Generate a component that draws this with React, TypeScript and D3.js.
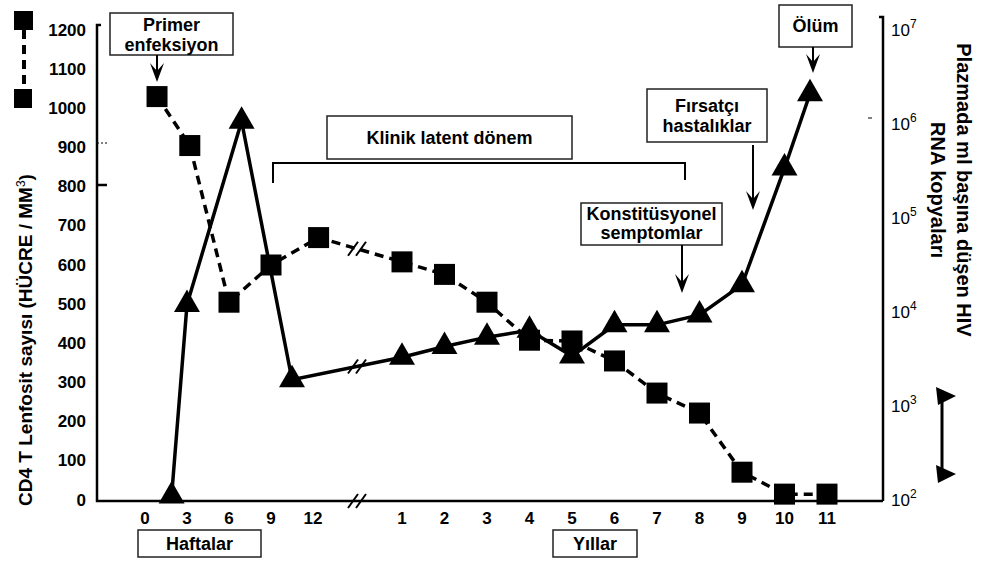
import * as d3 from "d3";
import React, { useEffect, useRef } from "react";

// CD4 T lenfosit sayısı (kareler, kesikli çizgi)
const cd4Weeks = [0.86, 3.2, 6.0, 9.0, 12.4];
const cd4WeekValues = [1030, 905, 505, 600, 670];
const cd4Years = [1, 2, 3, 4, 5, 6, 7, 8, 9, 10, 11];
const cd4YearValues = [608, 576, 505, 408, 406, 355, 273, 222, 71, 15, 15];

// plazmada HIV RNA kopyaları (üçgenler, düz çizgi)
const rnaWeeks = [1.9, 3.0, 6.9, 10.5];
const rnaWeekValues = [110, 12000, 1070000, 1900];
const rnaYears = [1, 2, 3, 4, 5, 6, 7, 8, 9, 10, 10.6];
const rnaYearValues = [3300, 4300, 5400, 6400, 3400, 7300, 7300, 9300, 19500, 340000, 2100000];

// eksen etiketleri
const weekTicks = [0, 3, 6, 9, 12];
const yearTicks = [1, 2, 3, 4, 5, 6, 7, 8, 9, 10, 11];
const cd4Ticks = [0, 100, 200, 300, 400, 500, 600, 700, 800, 900, 1000, 1100, 1200];
const rnaTickExponents = [2, 3, 4, 5, 6, 7];

function App() {
   const ref = useRef<SVGSVGElement>(null);

   useEffect(() => {
      const width = 982;
      const height = 561;
      const font = "'Liberation Sans', Arial, Helvetica, sans-serif";

      const svg = d3.select(ref.current);
      svg.selectAll("*").remove();
      svg.attr("width", width).attr("height", height).attr("font-family", font);

      // broken time axis: weeks, then years
      const xWeek = d3.scaleLinear().domain([0, 12]).range([145, 313]);
      const xYear = d3.scaleLinear().domain([1, 11]).range([402, 827]);
      const yCd4 = d3.scaleLinear().domain([0, 1200]).range([500, 30]);
      const yRna = d3.scaleLog().domain([1e2, 1e7]).range([500, 30]);
      const breakX = 357;

      const cd4Points: [number, number][] = [
         ...cd4Weeks.map((w, i) => [xWeek(w), yCd4(cd4WeekValues[i])] as [number, number]),
         ...cd4Years.map((y, i) => [xYear(y), yCd4(cd4YearValues[i])] as [number, number]),
      ];
      const rnaPoints: [number, number][] = [
         ...rnaWeeks.map((w, i) => [xWeek(w), yRna(rnaWeekValues[i])] as [number, number]),
         ...rnaYears.map((y, i) => [xYear(y), yRna(rnaYearValues[i])] as [number, number]),
      ];

      // y of a series where it crosses the axis break
      const yAtBreak = (pts: [number, number][], nWeeks: number) => {
         const a = pts[nWeeks - 1];
         const b = pts[nWeeks];
         return a[1] + ((breakX - a[0]) / (b[0] - a[0])) * (b[1] - a[1]);
      };

      // axes
      const axes = svg
         .append("g")
         .attr("stroke", "#000")
         .attr("stroke-width", 2.5)
         .attr("fill", "none");
      axes.append("path").attr("d", "M101,25H97V501H883");
      axes.append("path").attr("d", "M879,17H883V501");
      axes.append("path").attr("d", "M97,185H107");
      axes
         .append("path")
         .attr("d", "M97,143H108")
         .attr("stroke-width", 1)
         .attr("stroke-dasharray", "2,2");
      axes.append("path").attr("d", "M868,118H872").attr("stroke-width", 1);

      const drawBreak = (cx: number, cy: number) => {
         const g = svg.append("g").attr("stroke", "#000").attr("stroke-width", 2);
         [-4, 4].forEach((dx) => {
            g.append("line")
               .attr("x1", cx + dx - 5)
               .attr("y1", cy + 7)
               .attr("x2", cx + dx + 5)
               .attr("y2", cy - 7);
         });
      };

      // left tick labels
      svg.append("g")
         .selectAll("text")
         .data(cd4Ticks)
         .join("text")
         .attr("x", 86)
         .attr("y", (d) => yCd4(d))
         .attr("text-anchor", "end")
         .attr("dominant-baseline", "central")
         .attr("font-weight", "bold")
         .attr("font-size", 17)
         .text((d) => d);

      // right tick labels
      const rt = svg
         .append("g")
         .selectAll("text")
         .data(rnaTickExponents)
         .join("text")
         .attr("x", 891)
         .attr("y", (d) => yRna(Math.pow(10, d)) + 6)
         .attr("font-size", 17);
      rt.append("tspan").text("10");
      rt.append("tspan").attr("dy", -8).attr("font-size", 12).text((d) => d);

      // x tick labels
      const xLabels = svg
         .append("g")
         .attr("font-weight", "bold")
         .attr("font-size", 17)
         .attr("text-anchor", "middle")
         .attr("dominant-baseline", "central");
      xLabels
         .selectAll(".wk")
         .data(weekTicks)
         .join("text")
         .attr("class", "wk")
         .attr("x", (d) => xWeek(d))
         .attr("y", 518)
         .text((d) => d);
      xLabels
         .selectAll(".yr")
         .data(yearTicks)
         .join("text")
         .attr("class", "yr")
         .attr("x", (d) => xYear(d))
         .attr("y", 518)
         .text((d) => d);

      drawBreak(breakX, 501);

      // series lines
      const line = d3.line();
      svg.append("path")
         .attr("d", line(rnaPoints))
         .attr("fill", "none")
         .attr("stroke", "#000")
         .attr("stroke-width", 3.5);
      svg.append("path")
         .attr("d", line(cd4Points))
         .attr("fill", "none")
         .attr("stroke", "#000")
         .attr("stroke-width", 3.5)
         .attr("stroke-dasharray", "9,6");

      drawBreak(breakX, yAtBreak(cd4Points, cd4Weeks.length));
      drawBreak(breakX, yAtBreak(rnaPoints, rnaWeeks.length));

      // markers
      svg.append("g")
         .selectAll("rect")
         .data(cd4Points)
         .join("rect")
         .attr("x", (d) => d[0] - 10.5)
         .attr("y", (d) => d[1] - 10.5)
         .attr("width", 21)
         .attr("height", 21)
         .attr("fill", "#000");
      const tri = d3.symbol().type(d3.symbolTriangle).size(292);
      svg.append("g")
         .selectAll("path")
         .data(rnaPoints)
         .join("path")
         .attr("transform", (d) => `translate(${d[0]},${d[1]})`)
         .attr("d", tri)
         .attr("fill", "#000");

      // annotation boxes
      const box = (x0: number, y0: number, x1: number, y1: number, lines: string[], ys: number[]) => {
         svg.append("rect")
            .attr("x", x0)
            .attr("y", y0)
            .attr("width", x1 - x0)
            .attr("height", y1 - y0)
            .attr("fill", "#fff")
            .attr("stroke", "#222")
            .attr("stroke-width", 1.5);
         lines.forEach((t, i) => {
            svg.append("text")
               .attr("x", (x0 + x1) / 2)
               .attr("y", ys[i])
               .attr("text-anchor", "middle")
               .attr("dominant-baseline", "central")
               .attr("font-weight", "bold")
               .attr("font-size", 18)
               .text(t);
         });
      };
      const arrow = (x: number, y0: number, y1: number) => {
         svg.append("line")
            .attr("x1", x)
            .attr("y1", y0)
            .attr("x2", x)
            .attr("y2", y1 - 8)
            .attr("stroke", "#000")
            .attr("stroke-width", 2);
         svg.append("path")
            .attr("d", `M${x - 7},${y1 - 19}L${x},${y1}L${x + 7},${y1 - 19}L${x},${y1 - 11}Z`)
            .attr("fill", "#000");
      };

      box(110, 13, 233, 55, ["Primer", "enfeksiyon"], [25, 45]);
      arrow(157, 55, 82);

      box(327, 116, 572, 159, ["Klinik latent dönem"], [138]);
      svg.append("path")
         .attr("d", "M273,183V163H685V180")
         .attr("fill", "none")
         .attr("stroke", "#000")
         .attr("stroke-width", 2);

      box(647, 89, 767, 142, ["Fırsatçı", "hastalıklar"], [106, 126]);
      arrow(753, 145, 210);

      box(581, 203, 722, 245, ["Konstitüsyonel", "semptomlar"], [214, 233]);
      arrow(682, 245, 293);

      box(779, 5, 852, 47, ["Ölüm"], [26]);
      arrow(813, 47, 73);

      box(138, 530, 261, 557, ["Haftalar"], [544]);
      box(553, 530, 637, 557, ["Yıllar"], [544]);

      // legend glyphs
      svg.append("rect").attr("x", 14).attr("y", 11).attr("width", 19).attr("height", 19).attr("fill", "#000");
      svg.append("rect").attr("x", 14).attr("y", 89).attr("width", 18).attr("height", 19).attr("fill", "#000");
      svg.append("line")
         .attr("x1", 24)
         .attr("y1", 30)
         .attr("x2", 24)
         .attr("y2", 89)
         .attr("stroke", "#000")
         .attr("stroke-width", 4)
         .attr("stroke-dasharray", "9,6");

      svg.append("line")
         .attr("x1", 942)
         .attr("y1", 397)
         .attr("x2", 942)
         .attr("y2", 474)
         .attr("stroke", "#000")
         .attr("stroke-width", 3);
      svg.append("path").attr("d", "M936,387L956,396L938,405Z").attr("fill", "#000");
      svg.append("path").attr("d", "M936,465L956,474L938,483Z").attr("fill", "#000");

      // axis titles
      const lt = svg
         .append("text")
         .attr("transform", "translate(32,340) rotate(-90)")
         .attr("text-anchor", "middle")
         .attr("font-weight", "bold")
         .attr("font-size", 19);
      lt.append("tspan").text("CD4 T Lenfosit sayısı (HÜCRE / MM");
      lt.append("tspan").attr("dy", -7).attr("font-size", 12).attr("font-weight", "normal").text("3");
      lt.append("tspan").attr("dy", 7).text(")");

      svg.append("text")
         .attr("transform", "translate(957,190) rotate(90)")
         .attr("text-anchor", "middle")
         .attr("font-weight", "bold")
         .attr("font-size", 20)
         .text("Plazmada ml başına düşen HIV");
      svg.append("text")
         .attr("transform", "translate(931,190) rotate(90)")
         .attr("text-anchor", "middle")
         .attr("font-weight", "bold")
         .attr("font-size", 20)
         .text("RNA kopyaları");
   }, []);

   return (
      <div>
         <svg ref={ref} style={{ position: "absolute", left: 0, top: 0, background: "#fff" }}></svg>
      </div>
   );
}

export default App;
